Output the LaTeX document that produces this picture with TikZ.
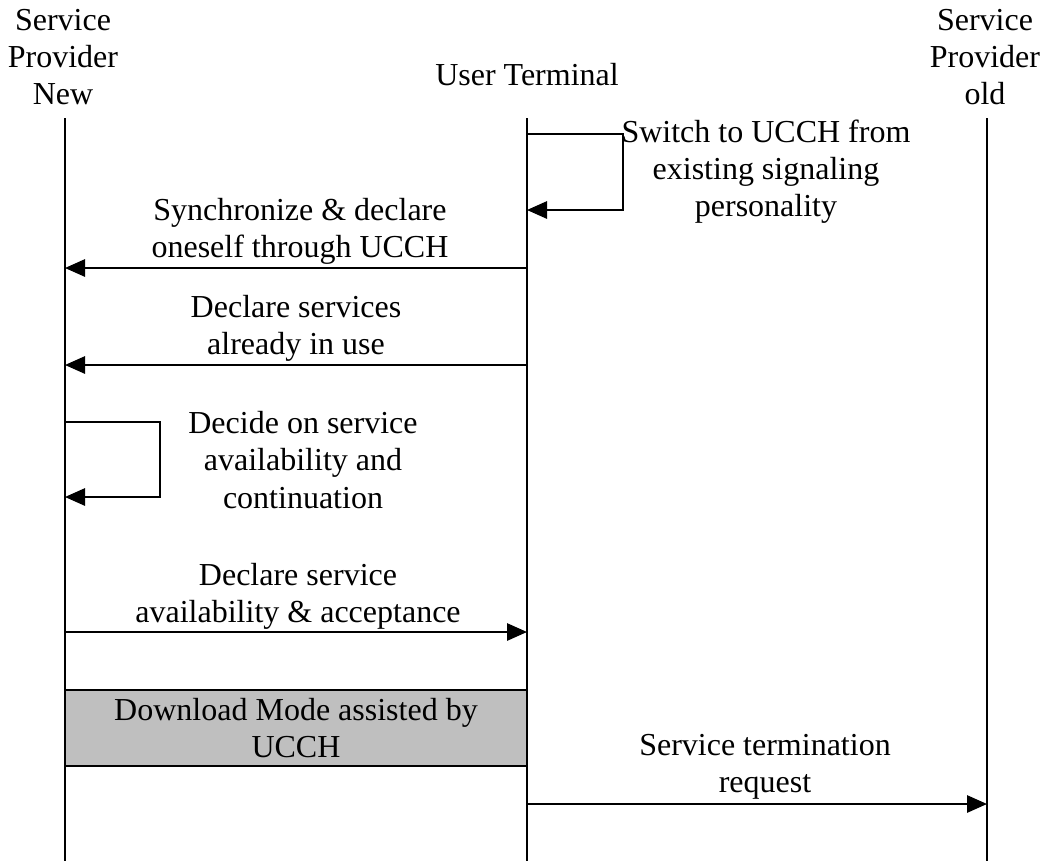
\documentclass[tikz,border=0pt]{standalone}
\usepackage{fontspec}
\setmainfont{Liberation Serif}
\usetikzlibrary{arrows.meta}
\tikzset{
  life/.style={line width=1.4pt},
  msg/.style={line width=1.4pt,-{Triangle[length=15pt,width=13pt]}},
  lbl/.style={align=center,inner sep=0pt,font=\fontsize{24}{27.8}\selectfont},
  dlbox/.style={draw,line width=1.6pt,fill=black!25}
}
\begin{document}
\begin{tikzpicture}[x=0.75pt,y=-0.75pt]
  \useasboundingbox (0,0) rectangle (1047,861);
  % lifeline heads
  \node[lbl] (spnew) at (63,57) {Service\\Provider\\New};
  \node[lbl] (ut) at (527,75) {User Terminal};
  \node[lbl] (spold) at (985,57) {Service\\Provider\\old};
  \coordinate (spnewtop) at (65,118);
  \coordinate (spnewbot) at (65,861);
  \coordinate (uttop) at (527,118);
  \coordinate (utbot) at (527,861);
  \coordinate (spoldtop) at (987,118);
  \coordinate (spoldbot) at (987,861);
  \draw[life] (spnewtop) -- (spnewbot);
  \draw[life] (uttop) -- (utbot);
  \draw[life] (spoldtop) -- (spoldbot);
  % switch to UCCH
  \coordinate (switcha) at (527,134);
  \coordinate (switchb) at (527,210);
  \draw[msg] (switcha) -- ++(96,0) |- (switchb);
  \node[lbl] (switchlbl) at (766,172) {Switch to UCCH from\\existing signaling\\personality};
  % synchronize
  \coordinate (syncu) at (527,268);
  \coordinate (syncn) at (65,268);
  \draw[msg] (syncu) -- (syncn);
  \node[lbl] (synclbl) at (300,231) {Synchronize \& declare\\oneself through UCCH};
  % declare services
  \coordinate (declu) at (527,365);
  \coordinate (decln) at (65,365);
  \draw[msg] (declu) -- (decln);
  \node[lbl] (decllbl) at (296,328) {Declare services\\already in use};
  % decide
  \coordinate (decidea) at (65,422);
  \coordinate (decideb) at (65,497);
  \draw[msg] (decidea) -- ++(95,0) |- (decideb);
  \node[lbl] (decidelbl) at (303,460) {Decide on service\\availability and\\continuation};
  % availability
  \coordinate (availn) at (65,632);
  \coordinate (availu) at (527,632);
  \draw[msg] (availn) -- (availu);
  \node[lbl] (availlbl) at (298,596) {Declare service\\availability \& acceptance};
  % download mode
  \coordinate (boxnw) at (65,690);
  \coordinate (boxse) at (527,766);
  \draw[dlbox] (boxnw) rectangle (boxse);
  \node[lbl] (boxlbl) at (296,728) {Download Mode assisted by\\UCCH};
  % termination
  \coordinate (termu) at (527,804);
  \coordinate (termo) at (987,804);
  \draw[msg] (termu) -- (termo);
  \node[lbl] (termlbl) at (765,767) {Service termination\\request};
\end{tikzpicture}
\end{document}
